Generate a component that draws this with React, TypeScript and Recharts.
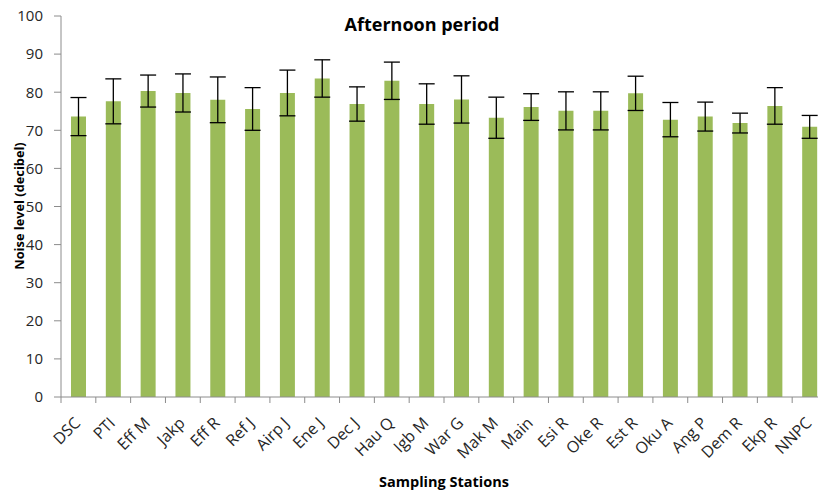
import React from 'react';
import { BarChart, Bar, XAxis, YAxis, ErrorBar, Customized } from 'recharts';

const stations = ['DSC', 'PTI', 'Eff M', 'Jakp', 'Eff R', 'Ref J', 'Airp J', 'Ene J', 'Dec J', 'Hau Q', 'Igb M', 'War G', 'Mak M', 'Main', 'Esi R', 'Oke R', 'Est R', 'Oku A', 'Ang P', 'Dem R', 'Ekp R', 'NNPC'];
const noiseLevels = [73.6, 77.6, 80.3, 79.8, 78.0, 75.6, 79.8, 83.6, 76.9, 83.0, 76.9, 78.1, 73.3, 76.1, 75.1, 75.1, 79.7, 72.8, 73.6, 71.9, 76.4, 70.9];
const errors = [5.0, 5.9, 4.2, 5.0, 6.0, 5.6, 6.0, 4.9, 4.5, 4.9, 5.3, 6.2, 5.4, 3.5, 5.0, 5.0, 4.5, 4.5, 3.8, 2.6, 4.8, 3.0];
const yTicks = [0, 10, 20, 30, 40, 50, 60, 70, 80, 90, 100];

const data = stations.map((s, i) => ({ name: s, value: noiseLevels[i], err: errors[i] }));

const W = 840;
const H = 494;
const M = { top: 16, right: 13, left: 0, bottom: 0 };
const Y_W = 61;
const X_H = 97;
const PLOT_W = W - M.left - M.right - Y_W;
const BAND = PLOT_W / stations.length;
const AXIS_Y = H - M.bottom - X_H;
const FONT = '"Open Sans", "Liberation Sans", sans-serif';
const AXIS_COLOR = '#8c8c8c';

const XTick = (props: any) => {
  const { x, payload } = props;
  const bx = x - BAND / 2;
  const ax = x - 5;
  const ay = AXIS_Y + 19;
  return (
    <g>
      <line x1={bx} y1={AXIS_Y} x2={bx} y2={AXIS_Y + 6} stroke={AXIS_COLOR} strokeWidth={1} />
      <text
        x={ax}
        y={ay}
        dy="0.71em"
        textAnchor="end"
        transform={`rotate(-45, ${ax}, ${ay})`}
        fontFamily={FONT}
        fontSize={16}
        fill="#262626"
      >
        {payload.value}
      </text>
    </g>
  );
};

const Labels = () => (
  <g fontFamily={FONT} fill="#000">
    <text x={422} y={31} textAnchor="middle" fontWeight="bold" fontSize={18}>Afternoon period</text>
    <text x={444} y={487} textAnchor="middle" fontWeight="bold" fontSize={14.5}>Sampling Stations</text>
    <text
      x={24}
      y={206}
      textAnchor="middle"
      fontWeight="bold"
      fontSize={12.8}
      transform="rotate(-90, 24, 206)"
    >
      Noise level (decibel)
    </text>
  </g>
);

export default function App() {
  return (
    <div style={{ position: 'fixed', left: 0, top: 0, width: 818, height: 494, overflow: 'hidden', background: '#fff' }}>
      <BarChart width={W} height={H} data={data} margin={M} barSize={15}>
        <XAxis
          dataKey="name"
          height={X_H}
          interval={0}
          tickLine={false}
          axisLine={{ stroke: AXIS_COLOR }}
          tick={<XTick />}
        />
        <YAxis
          width={Y_W}
          domain={[0, 100]}
          ticks={yTicks}
          interval={0}
          tickSize={7}
          tickMargin={11}
          axisLine={{ stroke: AXIS_COLOR }}
          tickLine={{ stroke: AXIS_COLOR }}
          tick={{ fontFamily: FONT, fontSize: 15, fill: '#262626' }}
        />
        <Bar dataKey="value" fill="#9BBB59" isAnimationActive={false}>
          <ErrorBar dataKey="err" width={8} stroke="#000" strokeWidth={1.3} />
        </Bar>
        <Customized component={Labels} />
      </BarChart>
    </div>
  );
}
